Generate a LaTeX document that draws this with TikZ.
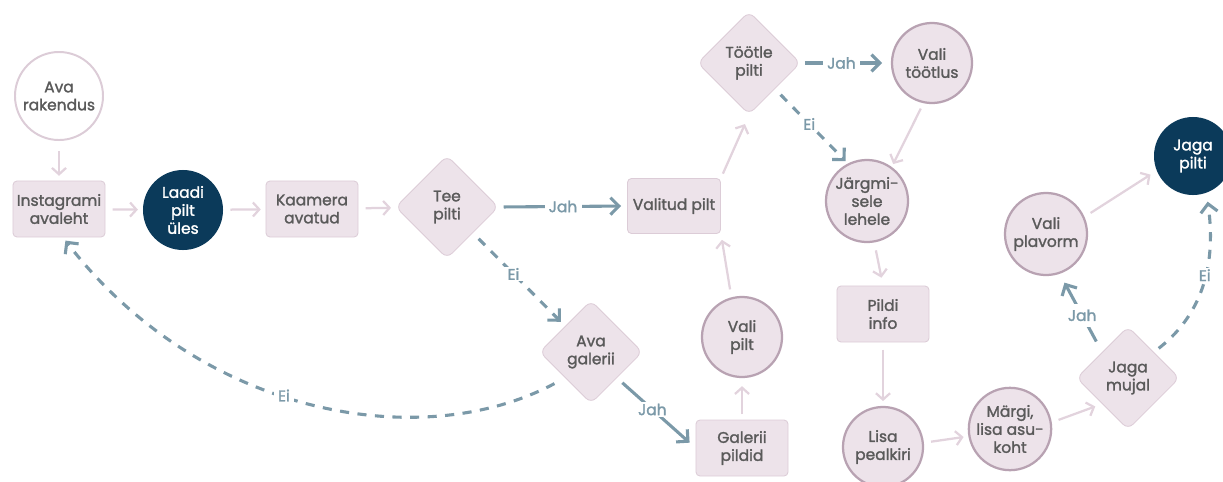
\documentclass[tikz,border=0pt]{standalone}
\usepackage{fontspec}
\setmainfont{Poppins}[FakeBold=1.6]
\usepackage{tikz}
\usetikzlibrary{positioning,shapes,arrows.meta}

\definecolor{boxfill}{HTML}{EDE3EA}
\definecolor{boxline}{HTML}{DCCCD7}
\definecolor{ringline}{HTML}{B8A2B2}
\definecolor{navy}{HTML}{0B3A5A}
\definecolor{flowblue}{HTML}{7B99A8}
\definecolor{flowpink}{HTML}{E2D3DD}
\definecolor{txtgrey}{HTML}{5A5A5A}

\begin{document}
\begin{tikzpicture}[x=0.025cm, y=-0.025cm,
    every node/.style={font=\fontsize{11}{12.8}\selectfont, text=txtgrey, align=center},
    box/.style={rectangle, rounded corners=0.1cm, fill=boxfill, draw=boxline, line width=0.6pt,
      minimum width=2.3cm, minimum height=1.4cm, inner sep=0pt},
    ring/.style={circle, fill=boxfill, draw=ringline, line width=1.6pt, minimum size=2cm, inner sep=0pt},
    darkring/.style={circle, fill=navy, text=white, minimum size=2cm, inner sep=0pt},
    choice/.style={diamond, aspect=1, rounded corners=0.18cm, fill=boxfill, draw=boxline, line width=0.6pt,
      minimum width=2.575cm, minimum height=2.575cm, inner sep=0pt},
    flow/.style={draw=flowpink, line width=1.6pt, -{Straight Barb[length=4.5pt,width=10pt]},
      shorten <=0.18cm, shorten >=0.12cm},
    yes/.style={draw=flowblue, line width=2.2pt, -{Straight Barb[length=6pt,width=12pt]}},
    no/.style={yes, dash pattern=on 6.5pt off 6pt},
    answer/.style={fill=white, text=flowblue, inner xsep=3pt, inner ysep=1pt}
  ]
  \useasboundingbox (0,0) rectangle (1223,481);

  % steps
  \node[ring, fill=white, draw=boxline, line width=1.4pt, minimum size=2.2cm] (rakendus) at (59,96) {Ava\\rakendus};
  \node[box] (insta) at (59,209) {Instagrami\\avaleht};
  \node[darkring] (laadi) at (183,210) {Laadi\\pilt\\üles};
  \node[box] (kaamera) at (312,209) {Kaamera\\avatud};
  \node[choice] (tee) at (447,207) {Tee\\pilti};
  \node[box, minimum width=2.325cm, minimum height=1.375cm] (valitud) at (674,206) {Valitud pilt};
  \node[choice] (galerii) at (591,352) {Ava\\galerii};
  \node[box] (gpildid) at (742,448) {Galerii\\pildid};
  \node[ring] (vpilt) at (742,337) {Vali\\pilt};
  \node[choice] (tootle) at (749,63) {Töötle\\pilti};
  \node[ring] (vtootlus) at (932,63) {Vali\\töötlus};
  \node[ring, minimum size=2.05cm] (jargmi) at (867,201) {Järgmi-\\sele\\lehele};
  \node[box] (pildi) at (883,314) {Pildi\\info};
  \node[ring] (lisa) at (883,447) {Lisa\\pealkiri};
  \node[ring] (margi) at (1010,429) {Märgi,\\lisa asu-\\koht};
  \node[choice] (jmujal) at (1128,378) {Jaga\\mujal};
  \node[ring, minimum size=2.05cm] (vplav) at (1046,234) {Vali\\plavorm};
  \node[darkring, minimum size=1.95cm] (jpilti) at (1193,156) {Jaga\\pilti};

  % plain steps
  \draw[flow, shorten <=0.25cm] (rakendus) -- (insta);
  \draw[flow] (insta) -- (laadi);
  \draw[flow] (laadi) -- (kaamera);
  \draw[flow] (kaamera) -- (tee);
  \draw[flow, shorten <=0.13cm, shorten >=0.2cm] (gpildid) -- (vpilt);
  \draw[flow, shorten <=0.2cm, shorten >=0.15cm] (vpilt.105) -- (valitud.south east);
  \draw[flow, shorten <=0.12cm, shorten >=0.25cm] (valitud.north east) -- (tootle.south);
  \draw[flow, shorten <=0.15cm, shorten >=0.08cm] (vtootlus.-102) -- (jargmi.54);
  \draw[flow, shorten <=0.2cm, shorten >=0.2cm] (jargmi.-80) -- (pildi.north);
  \draw[flow] (pildi) -- (lisa);
  \draw[flow] (lisa.6) -- (margi.190);
  \draw[flow, shorten >=0.18cm] (margi.9) -- (jmujal.south west);
  \draw[flow, shorten >=0.18cm] (vplav.24) -- (jpilti.202);

  % answers
  \draw[yes, shorten <=0.12cm, shorten >=0.15cm] (tee.east) -- node[answer] {Jah} (valitud.west);
  \draw[no, shorten <=0.2cm, shorten >=0.15cm] (tee.south east) -- node[answer, pos=0.44] {Ei} (galerii.north west);
  \draw[yes, shorten <=0.18cm, shorten >=0.2cm] (galerii.south east) -- node[answer, pos=0.45] {Jah} (gpildid.west);
  \draw[no, shorten <=0.3cm, shorten >=0.1cm] (galerii.south west) .. controls (420,455) and (200,415) .. node[answer, pos=0.55] {Ei} ([xshift=0.1cm]insta.south);
  \draw[yes, shorten <=0.1cm, shorten >=0.22cm] (tootle.east) -- node[answer, pos=0.45] {Jah} (vtootlus.west);
  \draw[no, shorten <=0.2cm, shorten >=0.08cm] (tootle.south east) -- node[answer, pos=0.47] {Ei} (jargmi.117);
  \draw[yes, shorten <=0.3cm, shorten >=0.25cm] (jmujal.north west) -- node[answer, pos=0.47, inner ysep=4pt] {Jah} (vplav.-71);
  \draw[no, shorten <=0.15cm, shorten >=0.22cm] (jmujal.north east) .. controls (1195,320) and (1218,275) .. node[answer, pos=0.6] {Ei} (jpilti.-70);
\end{tikzpicture}
\end{document}
